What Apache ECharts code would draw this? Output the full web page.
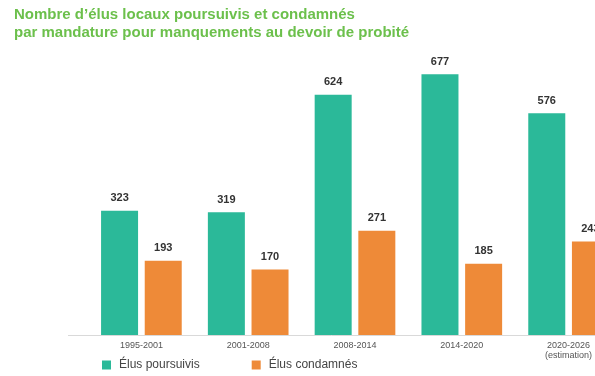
<!DOCTYPE html>
<html>
<head>
<meta charset="utf-8">
<script src="https://cdn.jsdelivr.net/npm/echarts@6/dist/echarts.min.js"></script>
<style>
  html, body { margin: 0; padding: 0; background: #ffffff; }
  #chart { width: 595px; height: 376px; }
</style>
</head>
<body>
<div id="chart"></div>
<script>
// Mandatures (periods of office)
const periods = ['1995-2001', '2001-2008', '2008-2014', '2014-2020', '2020-2026\n(estimation)'];
// Local elected officials prosecuted per mandature
const poursuivis = [323, 319, 624, 677, 576];
// Local elected officials convicted per mandature
const condamnes = [193, 170, 271, 185, 243];

const seriesNames = ['Élus poursuivis', 'Élus condamnés'];
const FONT = '"Liberation Sans", Arial, sans-serif';

const chart = echarts.init(document.getElementById('chart'), null, { renderer: 'canvas' });

const valueLabel = {
  show: true,
  position: 'top',
  distance: 7,
  color: '#333333',
  fontFamily: FONT,
  fontWeight: 'bold',
  fontSize: 11
};

chart.setOption({
  animation: false,
  backgroundColor: '#ffffff',
  title: {
    text: 'Nombre d\u2019élus locaux poursuivis et condamnés\npar mandature pour manquements au devoir de probité',
    left: 9,
    top: 1,
    textStyle: {
      color: '#6cc04c',
      fontFamily: FONT,
      fontWeight: 'bold',
      fontSize: 15,
      lineHeight: 18
    }
  },
  legend: {
    data: seriesNames,
    left: 97,
    top: 354,
    icon: 'rect',
    itemWidth: 9,
    itemHeight: 9,
    itemGap: 52,
    textStyle: { color: '#444444', fontFamily: FONT, fontSize: 12, padding: [0, 0, 0, 3] }
  },
  grid: { left: 88, top: 27, width: 534, bottom: 41, outerBoundsMode: 'none', containLabel: false },
  xAxis: {
    type: 'category',
    data: periods,
    axisLine: { show: false },
    axisTick: { show: false },
    axisLabel: {
      color: '#555555',
      fontFamily: FONT,
      fontSize: 9,
      lineHeight: 10,
      margin: 6,
      interval: 0
    }
  },
  yAxis: {
    type: 'value',
    min: 0,
    max: 800,
    show: false,
    splitLine: { show: false }
  },
  series: [
    {
      name: seriesNames[0],
      type: 'bar',
      data: poursuivis,
      barWidth: 37,
      barGap: '18%',
      itemStyle: { color: '#2bb999' },
      label: valueLabel
    },
    {
      name: seriesNames[1],
      type: 'bar',
      data: condamnes,
      barWidth: 37,
      itemStyle: { color: '#ee8a38' },
      label: valueLabel
    }
  ]
});

// Baseline rule under the bars, running from the left margin to the edge
const baseY = Math.round(chart.convertToPixel({ yAxisIndex: 0 }, 0)) + 0.5;
chart.setOption({
  graphic: [{
    type: 'line',
    shape: { x1: 68, y1: baseY, x2: 595, y2: baseY },
    style: { stroke: '#d9d9d9', lineWidth: 1 },
    z: -1
  }]
});
</script>
</body>
</html>
